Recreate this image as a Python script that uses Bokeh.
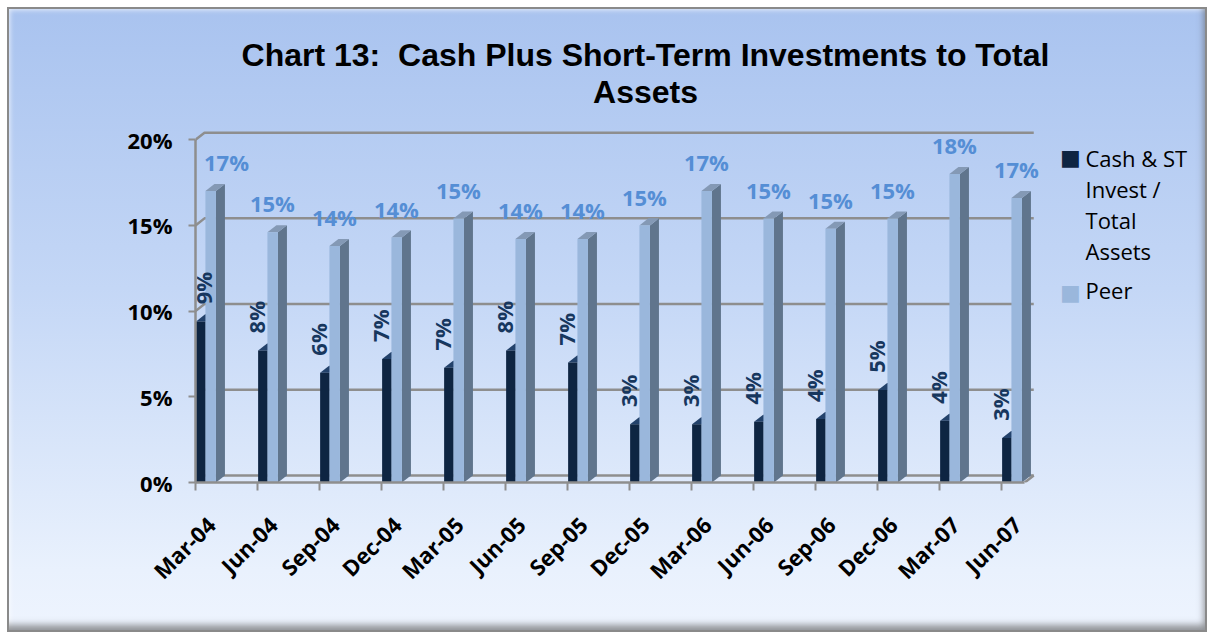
from math import pi
from bokeh.plotting import figure
from bokeh.models import Range1d, FixedTicker, Label, ColumnDataSource
from bokeh.core.properties import value
from bokeh.embed import file_html
from bokeh.resources import INLINE

# ---------------- data ----------------
categories = ["Mar-04", "Jun-04", "Sep-04", "Dec-04", "Mar-05", "Jun-05", "Sep-05",
              "Dec-05", "Mar-06", "Jun-06", "Sep-06", "Dec-06", "Mar-07", "Jun-07"]
cash = [9.4, 7.7, 6.4, 7.2, 6.7, 7.7, 7.0, 3.4, 3.4, 3.55, 3.7, 5.4, 3.6, 2.6]
peer = [17.0, 14.6, 13.8, 14.3, 15.4, 14.2, 14.2, 15.0, 17.0, 15.4, 14.8, 15.4, 18.0, 16.6]
y_ticks = [0, 5, 10, 15, 20]
series_names = ["Cash & ST\nInvest /\nTotal\nAssets", "Peer"]
title_lines = ["Chart 13:\u00a0 Cash Plus Short-Term Investments to Total", "Assets"]

# ---------------- styles ----------------
DARK = "#0E2542"; DARK_TOP = "#23426B"; DARK_SIDE = "#0A1A30"
PEER = "#9AB7DC"; PEER_TOP = "#8499B5"; PEER_SIDE = "#60758D"
GRID = "#8E8E8E"
FONT = "Open Sans"

n = len(categories)
DX, DY = 0.145, 0.41          # 3-D depth offset (x units, % units)
X_END = 13.52                 # back wall right end

W, H = 1200, 625
LEFT, BOTTOM, TOP, RIGHT = 188, 150, 5, 5
PX_X, PX_Y = 62.0, 17.14
x_end = (W - LEFT - RIGHT) / PX_X
y_end = (H - BOTTOM - TOP) / PX_Y

p = figure(width=W, height=H, output_backend="svg", toolbar_location=None,
           x_range=Range1d(0, x_end), y_range=Range1d(0, y_end),
           min_border_left=LEFT, min_border_right=RIGHT, min_border_top=TOP, min_border_bottom=BOTTOM)
p.background_fill_alpha = 0
p.border_fill_alpha = 0
p.outline_line_color = None
p.grid.visible = False
p.styles = {
    "margin-left": "7px", "margin-top": "7px",
    "background": "linear-gradient(to bottom, #A9C3EF 0%, #C4D7F6 45%, #E9F1FD 90%, #EEF4FE 100%)",
    "box-shadow": "inset 0 0 0 2px #8A8A8A, inset -5px -9px 7px -2px rgba(80,80,80,0.6), inset 5px 5px 5px -2px rgba(255,255,255,0.7)",
}

# back-wall gridlines (with diagonal from the front axis)
gx, gy = [], []
for t in y_ticks:
    gx.append([0, DX, X_END])
    gy.append([t, t + DY, t + DY])
gx.append([X_END - DX, X_END]); gy.append([0, DY])
p.multi_line(gx, gy, line_color=GRID, line_width=2.5)

# bar geometry
xi = list(range(n))
dl = [i + 0.01 for i in xi]; dr = [i + 0.16 for i in xi]
pl = [i + 0.16 for i in xi]; pr = [i + 0.33 for i in xi]

def faces(lefts, rights, vals):
    tops_x, tops_y, side_x, side_y = [], [], [], []
    for l, r, v in zip(lefts, rights, vals):
        tops_x.append([l, r, r + DX, l + DX]); tops_y.append([v, v, v + DY, v + DY])
        side_x.append([r, r, r + DX, r + DX]); side_y.append([0, v, v + DY, DY])
    return tops_x, tops_y, side_x, side_y

tx, ty, sx, sy = faces(dl, dr, cash)
p.patches(sx, sy, fill_color=DARK_SIDE, line_color=None)
p.patches(tx, ty, fill_color=DARK_TOP, line_color=None)
p.quad(left=dl, right=dr, bottom=0, top=cash, fill_color=DARK, line_color=None)

tx, ty, sx, sy = faces(pl, pr, peer)
p.patches(sx, sy, fill_color=PEER_SIDE, line_color=None)
p.patches(tx, ty, fill_color=PEER_TOP, line_color=None)
p.quad(left=pl, right=pr, bottom=0, top=peer, fill_color=PEER, line_color=None)

# data labels (kept inside the plot area, as the spreadsheet does)
peer_src = ColumnDataSource(dict(x=[max(i + 0.24, 0.5) for i in xi], y=[v + 1.68 for v in peer],
                                 t=[f"{v:.0f}%" for v in peer]))
p.text("x", "y", "t", source=peer_src, text_font=value(FONT), text_font_style="bold",
       text_font_size="22px", text_color="#558ED5", text_align="center", text_baseline="alphabetic")
cash_src = ColumnDataSource(dict(x=[max(i - 0.03, 0.12) for i in xi], y=[v + 1.0 for v in cash],
                                 t=[f"{v:.0f}%" for v in cash]))
p.text("x", "y", "t", source=cash_src, angle=pi / 2, text_font=value(FONT), text_font_style="bold",
       text_font_size="22px", text_color="#17375E", text_align="left", text_baseline="alphabetic")

# axes
xa = p.xaxis[0]
xa.ticker = FixedTicker(ticks=[i + 0.25 for i in xi], minor_ticks=xi)
xa.major_label_overrides = {i + 0.25: c for i, c in zip(xi, categories)}
xa.major_label_orientation = pi / 4
xa.major_tick_out = 0; xa.major_tick_in = 0
xa.minor_tick_out = 8; xa.minor_tick_in = 0
xa.minor_tick_line_color = GRID; xa.minor_tick_line_width = 2
xa.axis_line_color = GRID; xa.axis_line_width = 2.5
xa.bounds = (0, X_END - DX)
xa.major_label_standoff = 30
xa.major_label_text_font = FONT
xa.major_label_text_font_style = "bold"
xa.major_label_text_font_size = "22px"
xa.major_label_text_color = "black"

ya = p.yaxis[0]
ya.ticker = FixedTicker(ticks=y_ticks, minor_ticks=[])
ya.major_label_overrides = {t: f"{t}%" for t in y_ticks}
ya.major_tick_out = 7; ya.major_tick_in = 0
ya.major_tick_line_color = GRID; ya.major_tick_line_width = 2
ya.axis_line_color = GRID; ya.axis_line_width = 2.5
ya.bounds = (0, 20)
ya.major_label_standoff = 16
ya.major_label_text_font = FONT
ya.major_label_text_font_style = "bold"
ya.major_label_text_font_size = "22px"
ya.major_label_text_color = "black"

# title (two lines)
for txt, yy in zip(title_lines, [24.97, 22.81]):
    p.add_layout(Label(x=7.258, y=yy, text=txt, text_align="center", text_baseline="alphabetic",
                       text_font="Liberation Sans", text_font_style="bold", text_font_size="32px",
                       text_color="black"))

# legend (wrapped text, as in the original)
legend_lines = [series_names[0].split("\n"), series_names[1].split("\n")]
line_y = [[18.96, 17.15, 15.34, 13.48], [11.26]]
sq_y = [18.96, 11.08]
for colr, lines, ys, sy0 in zip([DARK, PEER], legend_lines, line_y, sq_y):
    p.add_layout(Label(x=14.113, y=sy0, text="\u25A0", text_align="center", text_baseline="alphabetic",
                       text_font="DejaVu Sans", text_font_size="22px", text_color=colr))
    for ln, yy in zip(lines, ys):
        p.add_layout(Label(x=14.355, y=yy, text=ln, text_align="left", text_baseline="alphabetic",
                           text_font=FONT, text_font_size="22px", text_color="black"))

open("out.html", "w").write(file_html(p, INLINE))
